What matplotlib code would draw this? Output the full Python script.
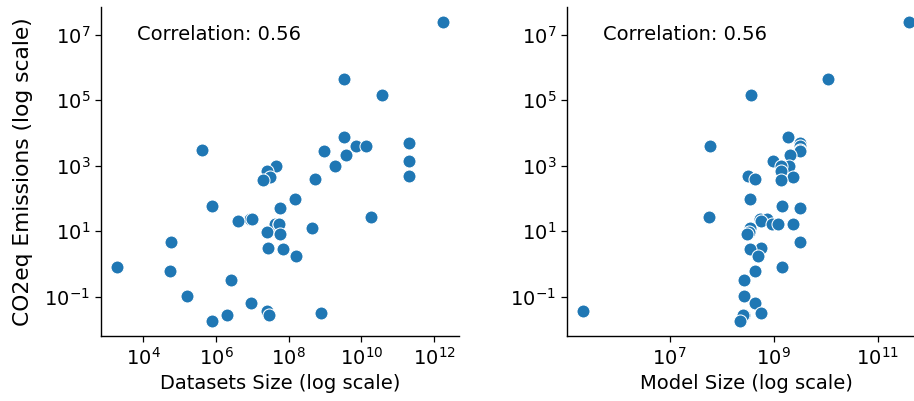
import numpy as np
import matplotlib
matplotlib.use("Agg")
import matplotlib.pyplot as plt

# log10 values
log_emissions = [7.39, 5.65, 5.16, 3.87, 3.70, 3.59, 3.59, 3.49, 3.46, 3.31,
                 3.13, 3.00, 2.98, 2.85, 2.69, 2.65, 2.60, 2.55, 1.99,
                 1.76, 1.70, 1.44, 1.38, 1.38, 1.30, 1.22, 1.22, 1.23, 1.08,
                 0.98, 0.90, 0.68, 0.49, 0.45, 0.24, -0.09, -0.23, -0.50,
                 -0.99, -1.20, -1.45, -1.56, -1.50, -1.57, -1.75]
log_dataset_size = [12.24, 9.53, 10.57, 9.53, 11.31, 9.85, 10.12, 5.60, 8.98, 9.58,
                    11.31, 9.27, 7.66, 7.41, 11.31, 7.49, 8.73, 7.30, 8.18,
                    5.90, 7.76, 10.26, 6.94, 7.00, 6.59, 7.63, 7.74, 7.74, 8.64,
                    7.41, 7.76, 4.77, 7.43, 7.84, 8.20, 3.28, 4.73, 6.40,
                    5.19, 6.95, 7.40, 7.47, 8.89, 6.29, 5.90]
log_model_size = [11.60, 10.04, 8.56, 9.27, 9.50, 7.77, 9.50, 9.50, 9.50, 9.31,
                  8.98, 9.29, 9.15, 9.15, 8.50, 9.37, 8.65, 9.15, 8.54,
                  9.17, 9.50, 7.76, 8.73, 8.88, 8.76, 8.97, 9.09, 9.38, 8.54,
                  8.52, 8.49, 9.50, 8.76, 8.54, 8.70, 9.17, 8.64, 8.43,
                  8.43, 8.64, 5.34, 8.44, 8.75, 8.42, 8.35]
model_ticks = [1e7, 1e9, 1e11]
corr_text = "Correlation: 0.56"

emissions = 10 ** np.array(log_emissions)
dataset_size = 10 ** np.array(log_dataset_size)
model_size = 10 ** np.array(log_model_size)

plt.rcParams["font.family"] = "DejaVu Sans"
fs = 14

fig = plt.figure(figsize=(9.14, 4.01), dpi=100)
ax1 = fig.add_axes([0.1105, 0.1621, 0.3917, 0.8204])
ax2 = fig.add_axes([0.6204, 0.1621, 0.3917, 0.8204])

for ax, xs, xlabel in [(ax1, dataset_size, "Datasets Size (log scale)"),
                       (ax2, model_size, "Model Size (log scale)")]:
    ax.scatter(xs, emissions, s=88, color="#1f77b4", edgecolor="white",
               linewidth=0.75, zorder=3)
    ax.set_xscale("log")
    ax.set_yscale("log")
    ax.minorticks_off()
    ax.set_xlabel(xlabel, fontsize=fs)
    ax.tick_params(labelsize=fs, length=4.3, width=0.9)
    ax.text(0.1, 0.9, corr_text, transform=ax.transAxes, fontsize=fs)
    for s in ["top", "right"]:
        ax.spines[s].set_visible(False)
    for s in ["left", "bottom"]:
        ax.spines[s].set_linewidth(1.0)

ax2.set_xticks(model_ticks)
ax2.minorticks_off()
ax1.set_ylabel("CO2eq Emissions (log scale)", fontsize=15.7, labelpad=8.5)

fig.savefig("out.png", dpi=100)
